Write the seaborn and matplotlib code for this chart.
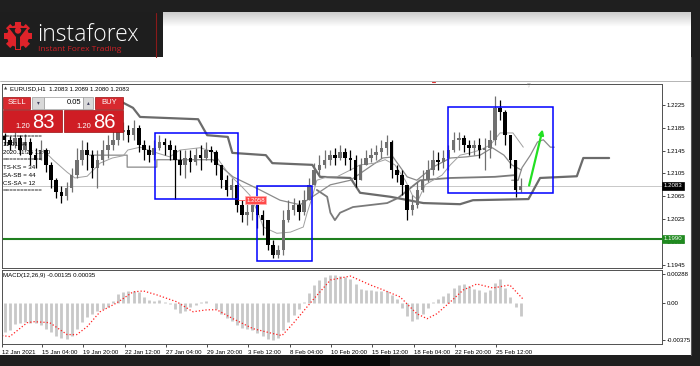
import numpy as np
import pandas as pd
import matplotlib
matplotlib.use("Agg")
import matplotlib.pyplot as plt
import seaborn as sns
from matplotlib.patches import Rectangle, Circle, Polygon

# ---------------- data ----------------
symbol_line = "EURUSD,H1  1.2083 1.2089 1.2080 1.2083"
macd_line = "MACD(12,26,9) -0.00135 0.00035"
candle_step = 8          # H1 bars represented by each drawn candle
first_open = 1.2170
close = [1.2164, 1.2155, 1.2167, 1.2146, 1.2160, 1.2137, 1.2129, 1.2146, 1.2120, 1.2093,
         1.2072, 1.2065, 1.2079, 1.2102, 1.2129, 1.2146, 1.2137, 1.2115, 1.2129, 1.2146,
         1.2155, 1.2164, 1.2178, 1.2181, 1.2172, 1.2185, 1.2155, 1.2146, 1.2137, 1.2150,
         1.2160, 1.2155, 1.2146, 1.2129, 1.2120, 1.2132, 1.2125, 1.2137, 1.2132, 1.2146,
         1.2143, 1.2120, 1.2093, 1.2076, 1.2085, 1.2050, 1.2032, 1.2037, 1.2050, 1.2032,
         1.2023, 1.1979, 1.1962, 1.1971, 1.2023, 1.2041, 1.2050, 1.2037, 1.2058, 1.2085,
         1.2111, 1.2120, 1.2129, 1.2137, 1.2132, 1.2143, 1.2132, 1.2129, 1.2093, 1.2120,
         1.2132, 1.2137, 1.2143, 1.2150, 1.2160, 1.2111, 1.2102, 1.2085, 1.2041, 1.2050,
         1.2076, 1.2093, 1.2111, 1.2129, 1.2125, 1.2132, 1.2146, 1.2164, 1.2167, 1.2155,
         1.2150, 1.2155, 1.2146, 1.2150, 1.2164, 1.2220, 1.2213, 1.2172, 1.2129, 1.2076,
         1.2083]
high = [1.2176, 1.2171, 1.2178, 1.2172, 1.2174, 1.2167, 1.2150, 1.2164, 1.2150, 1.2125,
        1.2097, 1.2083, 1.2090, 1.2115, 1.2150, 1.2164, 1.2160, 1.2146, 1.2146, 1.2164,
        1.2172, 1.2181, 1.2190, 1.2195, 1.2190, 1.2199, 1.2190, 1.2164, 1.2155, 1.2164,
        1.2172, 1.2167, 1.2164, 1.2155, 1.2146, 1.2146, 1.2146, 1.2150, 1.2155, 1.2160,
        1.2153, 1.2146, 1.2120, 1.2102, 1.2097, 1.2085, 1.2058, 1.2051, 1.2062, 1.2053,
        1.2041, 1.2023, 1.1988, 1.1979, 1.2041, 1.2058, 1.2062, 1.2058, 1.2076, 1.2097,
        1.2123, 1.2137, 1.2146, 1.2146, 1.2150, 1.2155, 1.2150, 1.2146, 1.2137, 1.2132,
        1.2146, 1.2150, 1.2155, 1.2164, 1.2172, 1.2164, 1.2120, 1.2111, 1.2085, 1.2067,
        1.2090, 1.2111, 1.2129, 1.2146, 1.2143, 1.2146, 1.2155, 1.2178, 1.2178, 1.2172,
        1.2164, 1.2164, 1.2167, 1.2167, 1.2181, 1.2241, 1.2234, 1.2216, 1.2172, 1.2129,
        1.2097]
low = [1.2155, 1.2146, 1.2150, 1.2137, 1.2143, 1.2120, 1.2115, 1.2129, 1.2107, 1.2079,
       1.2062, 1.2053, 1.2058, 1.2072, 1.2097, 1.2120, 1.2111, 1.2097, 1.2079, 1.2120,
       1.2132, 1.2146, 1.2155, 1.2164, 1.2160, 1.2164, 1.2143, 1.2129, 1.2125, 1.2129,
       1.2146, 1.2137, 1.2129, 1.2060, 1.2102, 1.2097, 1.2107, 1.2120, 1.2111, 1.2129,
       1.2125, 1.2102, 1.2079, 1.2065, 1.2062, 1.2037, 1.2020, 1.2015, 1.2023, 1.2009,
       1.1997, 1.1971, 1.1957, 1.1957, 1.1962, 1.2020, 1.2032, 1.2023, 1.2032, 1.2058,
       1.2085, 1.2102, 1.2115, 1.2120, 1.2120, 1.2129, 1.2120, 1.2111, 1.2081, 1.2093,
       1.2120, 1.2125, 1.2129, 1.2132, 1.2137, 1.2097, 1.2090, 1.2067, 1.2023, 1.2032,
       1.2044, 1.2072, 1.2090, 1.2102, 1.2111, 1.2115, 1.2111, 1.2143, 1.2146, 1.2143,
       1.2137, 1.2137, 1.2132, 1.2111, 1.2132, 1.2155, 1.2199, 1.2155, 1.2115, 1.2064,
       1.2072]

macd_hist = [-0.0029, -0.0027, -0.0021, -0.0020, -0.0019, -0.0020, -0.0020, -0.0022, -0.0026, -0.0029,
             -0.0033, -0.0035, -0.0036, -0.0033, -0.0026, -0.0019, -0.0014, -0.0011, -0.0008, -0.0006,
             -0.0004, 0.0002, 0.0009, 0.0011, 0.0012, 0.0012, 0.0011, 0.0006, 0.0003, 0.0002,
             0.0003, 0.0001, -0.0001, -0.0006, -0.0010, -0.0008, -0.0004, -0.0002, 0.0001, 0.0002,
             0.0000, -0.0006, -0.0011, -0.0015, -0.0018, -0.0022, -0.0025, -0.0026, -0.0027, -0.0030,
             -0.0033, -0.0036, -0.0037, -0.0035, -0.0027, -0.0019, -0.0012, -0.0006, 0.0001, 0.0010,
             0.0018, 0.0023, 0.0026, 0.0028, 0.0028, 0.0027, 0.0026, 0.0024, 0.0019, 0.0014,
             0.0013, 0.0013, 0.0012, 0.0012, 0.0012, 0.0008, 0.0004, -0.0005, -0.0013, -0.0018,
             -0.0016, -0.0011, -0.0005, 0.0001, 0.0004, 0.0007, 0.0010, 0.0015, 0.0018, 0.0019,
             0.0017, 0.0014, 0.0013, 0.0011, 0.0013, 0.0020, 0.0024, 0.0015, 0.0006, -0.0004,
             -0.00135]
signal_bar = [0, 12, 39, 50, 74, 101, 116, 132, 152, 178, 203, 219, 240, 271, 296, 318, 333, 358,
              389, 420, 434, 451, 482, 509, 540, 571, 591, 617, 643, 659, 674, 695, 715, 736, 761,
              787, 808]
signal_val = [-0.0033, -0.0034, -0.0020, -0.0019, -0.0020, -0.0032, -0.0032, -0.0024, -0.0009, 0.0000,
              0.0011, 0.0012, 0.0008, 0.0001, -0.0009, -0.0007, -0.0007, -0.0016, -0.0026, -0.0031,
              -0.0033, -0.0021, 0.0003, 0.0023, 0.0027, 0.0018, 0.0013, 0.0006, -0.0011, -0.0016,
              -0.0011, 0.0001, 0.0013, 0.0019, 0.0015, 0.0018, 0.00035]

# Ichimoku lines (bar index, price)
senkou_b_bar = [186, 203, 214, 304, 318, 350, 357, 409, 419, 481, 493, 540, 555, 602, 653, 710,
                730, 816, 834, 891, 901, 941]
senkou_b = [1.2230, 1.2220, 1.2204, 1.2200, 1.2172, 1.2169, 1.2141, 1.2137, 1.2123, 1.2120, 1.2099,
            1.2097, 1.2071, 1.2064, 1.2053, 1.2051, 1.2058, 1.2060, 1.2097, 1.2100, 1.2132, 1.2132]
senkou_a_bar = [488, 504, 509, 516, 524, 544, 597, 614, 648, 695, 764, 795]
senkou_a = [1.2076, 1.2064, 1.2036, 1.2023, 1.2036, 1.2046, 1.2053, 1.2062, 1.2093, 1.2097, 1.2099, 1.2102]
tenkan_bar = [64, 79, 101, 113, 132, 152, 171, 188, 195, 214, 234, 260, 276, 307, 327, 338, 353, 369,
              384, 397, 405, 426, 447, 467, 473, 481, 488, 504, 519, 540, 555, 578, 594, 609, 625,
              636, 645, 656, 668, 682, 695, 710, 726, 741, 757, 772, 792, 808]
tenkan = [1.2146, 1.2129, 1.2107, 1.2097, 1.2100, 1.2123, 1.2132, 1.2136, 1.2146, 1.2151,
          1.2143, 1.2134, 1.2146, 1.2150, 1.2143, 1.2125, 1.2102, 1.2085, 1.2067, 1.2036,
          1.2011, 1.2000, 1.2002, 1.2011, 1.2036, 1.2064, 1.2093, 1.2099, 1.2099, 1.2111,
          1.2120, 1.2123, 1.2129, 1.2120, 1.2093, 1.2067, 1.2058, 1.2085, 1.2093, 1.2102,
          1.2120, 1.2137, 1.2141, 1.2146, 1.2155, 1.2176, 1.2176, 1.2151]
kijun_bar = [136, 194, 194, 240, 240, 327, 358, 400, 431, 462, 485, 509, 540, 590, 606, 628, 643,
             668, 695, 720, 741, 760, 778, 790, 805]
kijun = [1.2137, 1.2137, 1.2116, 1.2116, 1.2129, 1.2129, 1.2099, 1.2076, 1.2058, 1.2050, 1.2067,
         1.2085, 1.2093, 1.2132, 1.2134, 1.2099, 1.2093, 1.2116, 1.2132, 1.2134, 1.2137, 1.2150,
         1.2137, 1.2120, 1.2111]
span_ext_bar = [790, 800, 806, 819, 830, 839, 850, 856]
span_ext = [1.2093, 1.2093, 1.2115, 1.2137, 1.2160, 1.2164, 1.2151, 1.2151]

price_ticks = [1.2225, 1.2185, 1.2145, 1.2105, 1.2065, 1.2025, 1.1985, 1.1945]
macd_ticks = [0.00288, 0.0, -0.00375]
macd_tick_labels = ["0.00288", "0.00", "-0.00375"]
time_tick_bars = [0, 62, 126, 190, 254, 318, 382, 446, 510, 574, 638, 702, 766]
time_tick_labels = ["12 Jan 2021", "15 Jan 04:00", "19 Jan 20:00", "22 Jan 12:00", "27 Jan 04:00",
                    "29 Jan 20:00", "3 Feb 12:00", "8 Feb 04:00", "10 Feb 20:00", "15 Feb 12:00",
                    "18 Feb 04:00", "22 Feb 20:00", "25 Feb 12:00"]
support_level = 1.1990
last_price = 1.2083
marked_price = 1.2058
box_bars = [(237, 366), (395, 481), (692, 854)]
box_prices = [(1.2060, 1.2176), (1.1951, 1.2083), (1.2071, 1.2221)]
arrow_bars = (816, 839)
arrow_prices = (1.2079, 1.2187)
info_lines = ["===========", "11 31 44", "2020.11.26 13:00", "===========",
              "TS-KS = 34", "SA-SB = 44", "CS-SA = 12", "==========="]
sell_price = ("1.20", "83")
buy_price = ("1.20", "86")
lot_size = "0.05"

# ---------------- style ----------------
sns.set_theme(style="white")
plt.rcParams['font.family'] = ['Liberation Sans', 'DejaVu Sans']
SMALL = 4.4

W, H = 700, 366
fig = plt.figure(figsize=(W / 100, H / 100), dpi=100)
fig.patch.set_facecolor('#1f1f1f')

# background (pixel coords)
bg = fig.add_axes([0, 0, 1, 1], zorder=0)
bg.set_xlim(0, W); bg.set_ylim(H, 0); bg.set_axis_off()
bg.add_patch(Rectangle((0, 12), 691, 343, fc='white', ec='none'))
grad = np.linspace(0.80, 1.0, 30).reshape(-1, 1)
bg.imshow(np.dstack([grad, grad, grad]), extent=[163, 691, 27, 12], aspect='auto', zorder=1)
bg.add_patch(Rectangle((0, 12), 163, 45, fc='#1e1e1e', ec='none', zorder=2))
bg.plot([156, 156], [13, 57], color='#8a1a1a', lw=0.8, zorder=3)
bg.plot([0, 690], [81, 81], color='#a8a8a8', lw=0.6)
bg.plot([690.5, 690.5], [57, 355], color='#555555', lw=0.8)
bg.add_patch(Rectangle((300, 355), 90, 11, fc='#0a0a0a', ec='none'))

# logo
gx, gy = 18, 36
for k in range(8):
    a = np.deg2rad(k * 45)
    bg.add_patch(Rectangle((gx + 11 * np.cos(a) - 3, gy + 11 * np.sin(a) - 3), 6, 6,
                           angle=k * 45, rotation_point='center', fc='#e0232a', ec='none', zorder=4))
bg.add_patch(Circle((gx, gy), 11, fc='#e0232a', ec='none', zorder=4))
bg.add_patch(Polygon([(9, 28), (27, 28), (20, 37), (20, 49), (16, 49), (16, 37)],
                     fc='#1e1e1e', ec='none', zorder=5))
bg.add_patch(Circle((gx, 30.5), 3.2, fc='#e0232a', ec='none', zorder=6))
bg.text(37, 41, "instaforex", color='white', fontsize=16.5, fontweight='light',
        family=['Open Sans', 'DejaVu Sans'], va='baseline', ha='left', zorder=6)
bg.text(38, 51, "Instant Forex Trading", color='#d11f26', fontsize=6,
        family=['Open Sans', 'DejaVu Sans'], va='baseline', ha='left', zorder=6)

# main price panel
left, width = 2 / W, 660 / W
ax = fig.add_axes([left, 1 - 268 / H, width, 184 / H], zorder=2)
ax.set_facecolor('white')
xlim = (0, 1023)

n = len(close)
bars = 4 + candle_step * np.arange(n)
c = np.array(close); h = np.array(high); l = np.array(low)
o = np.r_[first_open, c[:-1]]
cols = np.where(c >= o, '#707070', '#000000')

ax.axhline(last_price, color='#c8c8c8', lw=0.7, zorder=1)
ax.axhline(support_level, color='#1f7f1f', lw=1.5, zorder=1)

sns.lineplot(x=senkou_b_bar, y=senkou_b, ax=ax, color='#6b6b6b', linewidth=1.6,
             estimator=None, sort=False, legend=False)
sns.lineplot(x=senkou_a_bar, y=senkou_a, ax=ax, color='#7a7a7a', linewidth=1.3,
             estimator=None, sort=False, legend=False)
sns.lineplot(x=kijun_bar, y=kijun, ax=ax, color='#8a8a8a', linewidth=0.9,
             estimator=None, sort=False, legend=False)
sns.lineplot(x=tenkan_bar, y=tenkan, ax=ax, color='#a0a0a0', linewidth=0.7,
             estimator=None, sort=False, legend=False)
sns.lineplot(x=span_ext_bar, y=span_ext, ax=ax, color='#8a8a8a', linewidth=0.9,
             estimator=None, sort=False, legend=False)

ax.vlines(bars, l, h, colors=cols, lw=0.9, zorder=3)
body_lo = np.minimum(o, c); body_h = np.maximum(np.abs(c - o), 0.00008)
ax.bar(bars, body_h, bottom=body_lo, width=5.5, color=cols, linewidth=0, zorder=3)

for (b0, b1), (p0, p1) in zip(box_bars, box_prices):
    ax.add_patch(Rectangle((b0, p0), b1 - b0, p1 - p0, fill=False, ec='#0000ff', lw=1.1, zorder=4))

ax.annotate('', xy=(arrow_bars[1], arrow_prices[1]), xytext=(arrow_bars[0], arrow_prices[0]),
            arrowprops=dict(arrowstyle='-|>', color='#22e022', lw=1.6, mutation_scale=7),
            zorder=5)

ax.plot([box_bars[0][1], 378], [marked_price, marked_price], color='#ff5050', lw=0.6, zorder=4)
ax.text(379, marked_price, f"{marked_price:.4f}", fontsize=SMALL, color='white', ha='left',
        va='center', zorder=6,
        bbox=dict(boxstyle='square,pad=0.2', fc='#ff4a4a', ec='#ffb0b0', lw=0.5))

ax.set_xlim(*xlim)
ax.set_ylim(1.19391, 1.22618)
ax.set_xticks([])
ax.yaxis.tick_right()
ax.set_yticks(price_ticks)
ax.set_yticklabels([f"{p:.4f}" for p in price_ticks])
ax.tick_params(axis='y', right=True, left=False, labelright=True, labelleft=False,
               length=2, width=0.5, pad=1.5, labelsize=SMALL, colors='black')
ax.set_xlabel(''); ax.set_ylabel('')
for s in ax.spines.values():
    s.set_color('#505050'); s.set_linewidth(0.7)

ytr = ax.get_yaxis_transform()
ax.text(1.003, last_price, f"{last_price:.4f}", transform=ytr, fontsize=SMALL, color='white',
        ha='left', va='center', zorder=6, clip_on=False,
        bbox=dict(boxstyle='square,pad=0.25', fc='black', ec='black', lw=0.5))
ax.text(1.003, support_level, f"{support_level:.4f}", transform=ytr, fontsize=SMALL, color='white',
        ha='left', va='center', zorder=6, clip_on=False,
        bbox=dict(boxstyle='square,pad=0.25', fc='#1f8a1f', ec='#1f8a1f', lw=0.5))

# MACD panel
ax2 = fig.add_axes([left, 1 - 344 / H, width, 74 / H], zorder=2)
ax2.set_facecolor('white')
ax2.vlines(bars, 0, macd_hist, colors='#c8c8c8', lw=2.0)
sns.lineplot(x=signal_bar, y=signal_val, ax=ax2, color='#ff2020', linewidth=0.9,
             linestyle=':', estimator=None, sort=False, legend=False)
ax2.set_xlim(*xlim)
ax2.set_ylim(-0.00415, 0.00331)
ax2.yaxis.tick_right()
ax2.set_yticks(macd_ticks)
ax2.set_yticklabels(macd_tick_labels)
ax2.set_xticks(time_tick_bars)
ax2.set_xticklabels(time_tick_labels, ha='left')
ax2.tick_params(axis='y', right=True, left=False, labelright=True, labelleft=False,
                length=2, width=0.5, pad=1.5, labelsize=SMALL, colors='black')
ax2.tick_params(axis='x', bottom=True, length=2.5, width=0.5, pad=1.5, labelsize=SMALL,
                colors='black')
ax2.set_xlabel(''); ax2.set_ylabel('')
for s in ax2.spines.values():
    s.set_color('#505050'); s.set_linewidth(0.7)
ax2.text(0.002, 0.93, macd_line, transform=ax2.transAxes, fontsize=SMALL, color='black',
         ha='left', va='center')

# overlay (pixel coords): terminal widgets
ov = fig.add_axes([0, 0, 1, 1], zorder=10)
ov.set_xlim(0, W); ov.set_ylim(H, 0); ov.set_axis_off()
ov.text(4, 89, "\u25B2", fontsize=3, color='#404040', ha='left', va='center',
        family=['DejaVu Sans'])
ov.text(10, 89, symbol_line, fontsize=SMALL, color='black', ha='left', va='center')
red = '#cf1d24'
ov.add_patch(Rectangle((3, 97), 27, 12, fc='#d8292f', ec='#9a1010', lw=0.5))
ov.text(16.5, 103, "SELL", fontsize=5.5, color='white', ha='center', va='center')
ov.add_patch(Rectangle((32, 97), 12, 12, fc='#d9d9d9', ec='#9a9a9a', lw=0.5))
ov.text(38, 103, "\u25BE", fontsize=4, color='#404060', ha='center', va='center',
        family=['DejaVu Sans'])
ov.add_patch(Rectangle((44, 97), 39, 12, fc='white', ec='#9a9a9a', lw=0.5))
ov.text(81, 103, lot_size, fontsize=5.5, color='black', ha='right', va='center')
ov.add_patch(Rectangle((83, 97), 10, 12, fc='#d9d9d9', ec='#9a9a9a', lw=0.5))
ov.text(88, 103, "\u25B4", fontsize=4, color='#404060', ha='center', va='center',
        family=['DejaVu Sans'])
ov.add_patch(Rectangle((95, 97), 28, 12, fc='#d8292f', ec='#9a1010', lw=0.5))
ov.text(109, 103, "BUY", fontsize=5.5, color='white', ha='center', va='center')
for x0, (small, big) in [(3, sell_price), (64, buy_price)]:
    ov.add_patch(Rectangle((x0, 110), 59, 22, fc=red, ec='#9a1010', lw=0.5))
    ov.text(x0 + 12, 128, small, fontsize=5.5, color='white', ha='left', va='baseline')
    ov.text(x0 + 29, 128.5, big, fontsize=14.5, color='white', ha='left', va='baseline')
for k, line in enumerate(info_lines):
    ov.text(3, 137 + 7.7 * k, line, fontsize=SMALL, color='black', ha='left', va='center')
ov.text(529, 85.5, "\u25BD", fontsize=3.5, color='#a0a0a0', ha='center', va='center',
        family=['DejaVu Sans'])
ov.plot([432, 435], [82, 82], color='#e03030', lw=0.8)

fig.savefig("out.png", dpi=100, facecolor=fig.get_facecolor())
